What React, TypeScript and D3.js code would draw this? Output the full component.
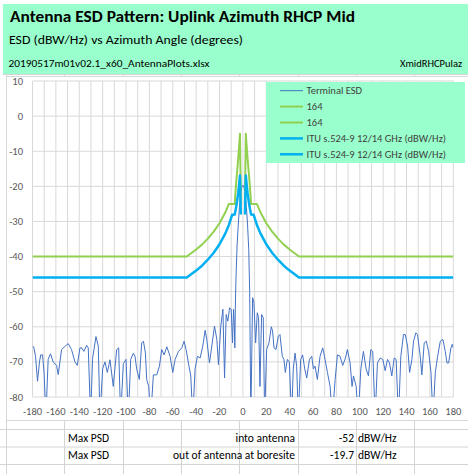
import React from 'react';
import * as d3 from 'd3';

type Pt = [number, number];

// header / table text
const title = 'Antenna ESD Pattern: Uplink Azimuth RHCP Mid';
const subtitle = 'ESD (dBW/Hz) vs Azimuth Angle (degrees)';
const fileName = '20190517m01v02.1_x60_AntennaPlots.xlsx';
const sheetName = 'XmidRHCPulaz';

const tableRows = [
  { label: 'Max PSD', desc: 'into antenna', value: '-52', unit: 'dBW/Hz' },
  { label: 'Max PSD', desc: 'out of antenna at boresite', value: '-19.7', unit: 'dBW/Hz' },
];

// axes
const xTicks = [-180, -160, -140, -120, -100, -80, -60, -40, -20, 0, 20, 40, 60, 80, 100, 120, 140, 160, 180];
const xGrid = [-180, -170, -160, -150, -140, -130, -120, -110, -100, -90, -80, -70, -60, -50, -40, -30, -20, -10, 0,
  10, 20, 30, 40, 50, 60, 70, 80, 90, 100, 110, 120, 130, 140, 150, 160, 170, 180];
const yTicks = [10, 0, -10, -20, -30, -40, -50, -60, -70, -80];

// Terminal ESD (values below -80 are clipped by the plot)
const terminalEsd: Pt[] = [
  [-180, -65.5], [-179, -65.7], [-177.4, -68.4], [-175.7, -75.5], [-174, -70], [-173, -68], [-171.4, -68], [-170, -73.6],
  [-168.6, -86], [-166.6, -69.3], [-164.6, -67.7], [-162.3, -70], [-159.4, -71], [-158, -73.6], [-155.1, -66.5],
  [-152, -65.5], [-149.4, -64.8], [-146.6, -66.5], [-143.7, -70], [-141.7, -71], [-139.4, -66], [-138, -66], [-136, -67],
  [-133.7, -65.3], [-132.3, -66], [-130.3, -86], [-128.6, -69], [-125.7, -62.8], [-123.7, -65.5], [-122.3, -86],
  [-120, -72], [-118, -70], [-116, -73], [-113.7, -69.4], [-110.9, -77], [-108, -66.5], [-106.3, -66], [-104.6, -86],
  [-102.3, -70.5], [-100, -69.3], [-98, -86], [-96, -69.3], [-93.7, -67.5], [-92.3, -68.4], [-90.9, -72], [-88.6, -75],
  [-86.6, -64.6], [-85.1, -64.1], [-83.4, -67.5], [-82.3, -75], [-80.6, -77], [-78.9, -86], [-76.6, -73.7],
  [-73.7, -73.7], [-71.4, -71.2], [-69.4, -66.5], [-67.4, -68], [-65.1, -65.7], [-62.3, -68.4], [-60, -73],
  [-58, -69.3], [-55.1, -67], [-52.3, -66], [-50.3, -64.1], [-48.6, -66.5], [-46.6, -70.3], [-44.6, -74], [-42.9, -86],
  [-40.9, -72], [-38.9, -68.4], [-36.6, -68.9], [-34.3, -65.5], [-32.3, -61], [-30.9, -63.6], [-28.6, -70.3],
  [-26.6, -65.5], [-24.3, -59.8], [-22.3, -63.6], [-20.9, -70.8], [-18.9, -59.8], [-17.1, -55], [-15.7, -74.6],
  [-14.3, -56.5], [-12.9, -58.4], [-11.4, -54.6], [-10, -55], [-8.9, -64.6], [-8, -55], [-7.3, -60], [-6.9, -66],
  [-6.5, -55], [-6, -47], [-5, -37], [-4, -31], [-3, -26], [-2, -22.5], [-1, -20.3], [0, -19.7], [1, -20.3],
  [2, -22.5], [3, -26], [4, -31], [5, -38], [5.8, -50], [6.4, -72], [6.8, -86], [8.3, -51.7], [9.4, -53],
  [10.9, -64.6], [12.3, -56], [13.4, -57.4], [14.6, -77], [16, -56.5], [17.4, -57.4], [18.6, -86], [20.3, -66.5],
  [22.3, -64.6], [24.3, -60], [25.4, -61.2], [26.6, -66], [28.3, -66.5], [30.3, -62.7], [31.7, -62.2], [33.7, -68.4],
  [35.1, -69.3], [36.3, -73], [38, -69.3], [39.7, -70], [41.7, -86], [43.1, -72], [44.6, -67.5], [46, -71.2],
  [47.4, -86], [49.4, -69.3], [51.1, -68], [52.9, -72], [54.6, -74.6], [56.9, -69.3], [58.9, -68.4], [60.3, -72],
  [61.7, -71.2], [63.7, -75], [66, -68.4], [68.3, -66], [70.3, -69.3], [72.3, -73], [74.6, -77], [76.6, -86],
  [78.9, -75], [80.9, -68], [83.1, -68.4], [85.4, -71], [87.7, -68.9], [89.4, -66.5], [91.7, -70.3], [93.4, -77],
  [94.6, -74], [96.9, -77], [98.6, -86], [100.9, -72], [103.1, -67], [105.4, -72], [107.4, -74], [109.4, -66.5],
  [111.1, -67], [113.1, -86], [115.1, -70.3], [117.4, -68.9], [119.7, -69.3], [121.7, -72.5], [123.7, -69.3],
  [125.4, -70.3], [127.4, -74], [129.4, -68.9], [131.1, -69.3], [133.1, -86], [135.1, -68.4], [137.4, -62.2],
  [138.9, -62.2], [140.9, -65.5], [142.6, -73], [144.6, -69.3], [146, -64.1], [148, -61.7], [149.4, -62.2],
  [151.7, -68.4], [153.1, -73.7], [155.1, -64.6], [156.9, -64.1], [158.9, -67], [160.9, -73], [162.6, -86],
  [164.6, -73], [166.6, -68.4], [168.9, -64.1], [171.1, -63.6], [173.1, -67], [174.6, -70.3], [176, -70.3],
  [178, -66], [179.1, -65], [180, -66],
];

// "164" mask, one series per side
const mask164Left: Pt[] = [
  [-180, -40], [-48, -40], [-40, -38], [-35, -36.6], [-30, -34.9], [-25, -32.9], [-20, -30.5], [-15, -27.4],
  [-12, -25], [-7, -25], [-6, -20], [-5, -16], [-4, -12], [-3, -7.5], [-2.5, -5], [-1.7, -25],
];
const mask164Right: Pt[] = [
  [1.7, -25], [2.5, -5], [3, -7.5], [4, -12], [5, -16], [6, -20], [7, -25], [12, -25], [15, -27.4], [20, -30.5],
  [25, -32.9], [30, -34.9], [35, -36.6], [40, -38], [48, -40], [180, -40],
];

// ITU s.524-9 mask, one series per side
const ituLeft: Pt[] = [
  [-180, -46], [-48, -46], [-40, -44], [-35, -42.6], [-30, -40.9], [-25, -38.9], [-20, -36.5], [-15, -33.4],
  [-12, -31], [-9.2, -28.1], [-7, -28], [-6, -26.3], [-5, -24.3], [-4, -21.9], [-3, -18.8], [-2.5, -16.9], [-1.8, -28],
];
const ituRight: Pt[] = [
  [1.8, -28], [2.5, -16.9], [3, -18.8], [4, -21.9], [5, -24.3], [6, -26.3], [7, -28], [9.2, -28.1], [12, -31],
  [15, -33.4], [20, -36.5], [25, -38.9], [30, -40.9], [35, -42.6], [40, -44], [48, -46], [180, -46],
];

const seriesNames = ['Terminal ESD', '164', '164', 'ITU s.524-9 12/14 GHz (dBW/Hz)', 'ITU s.524-9 12/14 GHz (dBW/Hz)'];
const seriesColors = ['#4472C4', '#92D050', '#92D050', '#00B0F0', '#00B0F0'];
const seriesWidths = [1, 2, 2, 2.5, 2.5];
const seriesData = [terminalEsd, mask164Left, mask164Right, ituLeft, ituRight];

const W = 468;
const H = 474;
const FONT = 'Carlito, Calibri, Lato, "Open Sans", sans-serif';
const mint = '#99FFCC';
const cellLine = '#D4D4D4';
const gridLine = '#D9D9D9';
const colEdges = [6, 64, 123, 181, 239, 298, 356, 414];

const App: React.FC = () => {
  const x = d3.scaleLinear().domain([-180, 180]).range([32.5, 453.3]);
  const y = d3.scaleLinear().domain([-80, 10]).range([397, 81]);
  const line = d3.line<Pt>().x(d => x(d[0])).y(d => y(d[1]));

  const rowLines = [429, 446.5, 464];

  return (
    <svg width={W} height={H} style={{ position: 'absolute', left: 0, top: 0, background: '#fff' }} fontFamily={FONT}>
      <defs>
        <clipPath id="plotClip">
          <rect x={x(-180)} y={y(10)} width={x(180) - x(-180)} height={y(-80) - y(10)} />
        </clipPath>
      </defs>

      {/* header block */}
      <rect x={3} y={4} width={W - 3} height={70} fill={mint} />
      <text x={10} y={22} fontSize={15.5} fontWeight="bold" fill="#000" textLength={345} lengthAdjust="spacingAndGlyphs">{title}</text>
      <text x={9} y={44} fontSize={12.5} fill="#000" textLength={234} lengthAdjust="spacingAndGlyphs">{subtitle}</text>
      <text x={8.5} y={67} fontSize={10.5} fill="#000" textLength={201} lengthAdjust="spacingAndGlyphs">{fileName}</text>
      <text x={400} y={67} fontSize={10.5} fill="#000">{sheetName}</text>

      {/* spreadsheet cells around chart */}
      <line x1={3} x2={W} y1={74.5} y2={74.5} stroke={cellLine} />
      {colEdges.map(c => (
        <line key={'ct' + c} x1={c + 0.5} x2={c + 0.5} y1={74} y2={77} stroke={cellLine} />
      ))}
      {rowLines.map(r => (
        <line key={'r' + r} x1={0} x2={W} y1={r + 0.5} y2={r + 0.5} stroke={cellLine} />
      ))}
      {colEdges.map(c => (
        <line key={'cb' + c} x1={c + 0.5} x2={c + 0.5} y1={421} y2={H} stroke={cellLine} />
      ))}

      {/* chart area */}
      <rect x={6.5} y={76.5} width={W} height={344} fill="#fff" stroke={gridLine} />

      {/* gridlines */}
      {xGrid.map(v => (
        <line key={'gx' + v} x1={x(v)} x2={x(v)} y1={y(10)} y2={y(-80)} stroke={gridLine} strokeWidth={1} />
      ))}
      {yTicks.map(v => (
        <line key={'gy' + v} x1={x(-180)} x2={x(180)} y1={y(v)} y2={y(v)} stroke={gridLine} strokeWidth={1} />
      ))}

      {/* tick labels */}
      {yTicks.map(v => (
        <text key={'ty' + v} x={23} y={y(v) + 3.5} fontSize={10.5} fill="#595959" textAnchor="end">{v}</text>
      ))}
      {xTicks.map(v => (
        <text key={'tx' + v} x={x(v)} y={415} fontSize={10.5} fill="#595959" textAnchor="middle">{v}</text>
      ))}

      {/* series */}
      <g clipPath="url(#plotClip)">
        {seriesData.map((d, i) => (
          <path key={'s' + i} d={line(d) || ''} fill="none" stroke={seriesColors[i]} strokeWidth={seriesWidths[i]}
            strokeLinejoin="round" />
        ))}
      </g>

      {/* legend */}
      <rect x={266} y={82} width={199} height={81} fill={mint} />
      {seriesNames.map((n, i) => {
        const ly = 90.7 + i * 15.9;
        return (
          <g key={'lg' + i}>
            <line x1={280} x2={303} y1={ly} y2={ly} stroke={seriesColors[i]} strokeWidth={seriesWidths[i]} />
            <text x={306.5} y={ly + 3.6} fontSize={10.5} fill="#404040">{n}</text>
          </g>
        );
      })}

      {/* table below chart */}
      {tableRows.map((r, i) => {
        const ty = 441.5 + i * 17.5;
        return (
          <g key={'tr' + i} fontSize={11.5} fill="#000">
            <text x={68} y={ty}>{r.label}</text>
            <text x={295} y={ty} textAnchor="end">{r.desc}</text>
            <text x={354} y={ty} textAnchor="end">{r.value}</text>
            <text x={358} y={ty}>{r.unit}</text>
          </g>
        );
      })}
    </svg>
  );
};

export default App;
